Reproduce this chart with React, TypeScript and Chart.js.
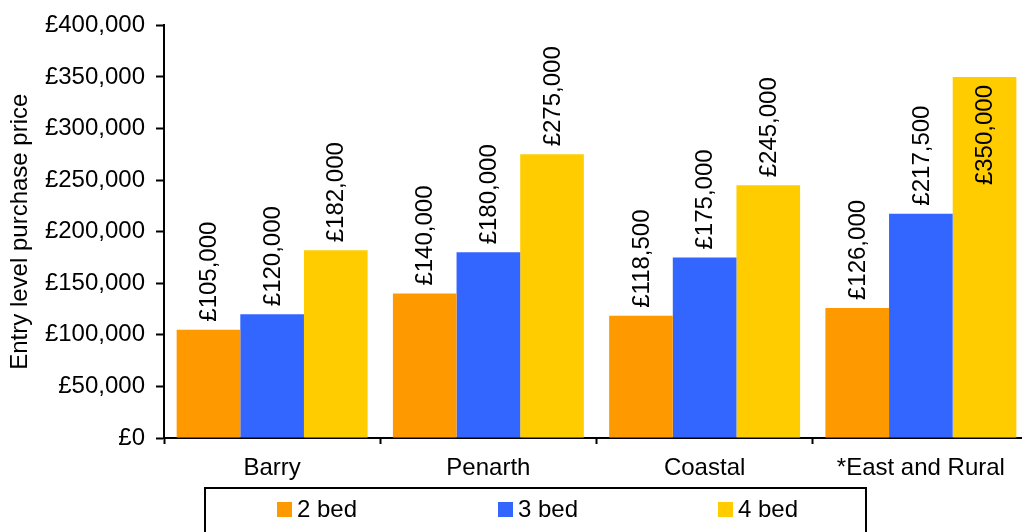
import React, { useEffect, useRef } from "react";
import { Chart, registerables } from "chart.js";

Chart.register(...registerables);

const categories = ["Barry", "Penarth", "Coastal", "*East and Rural"];
const seriesNames = ["2 bed", "3 bed", "4 bed"];
const twoBed = [105000, 140000, 118500, 126000];
const threeBed = [120000, 180000, 175000, 217500];
const fourBed = [182000, 275000, 245000, 350000];
const seriesColors = ["#FF9900", "#3366FF", "#FFCC00"];
const yTicks = [0, 50000, 100000, 150000, 200000, 250000, 300000, 350000, 400000];

const FONT = "'Liberation Sans', Arial, sans-serif";
const FONT_SIZE = 24;

const money = (v: number) => "£" + v.toLocaleString("en-GB");

// Rotated value labels: above the bar, or inside its top when there is no room.
const valueLabels = {
  id: "valueLabels",
  afterDatasetsDraw(chart: any) {
    const ctx = chart.ctx;
    const gap = 8;
    ctx.save();
    ctx.font = `${FONT_SIZE}px ${FONT}`;
    ctx.fillStyle = "#000";
    ctx.textBaseline = "middle";
    chart.data.datasets.forEach((ds: any, di: number) => {
      const meta = chart.getDatasetMeta(di);
      meta.data.forEach((bar: any, i: number) => {
        const text = money(ds.data[i]);
        const w = ctx.measureText(text).width;
        ctx.save();
        ctx.translate(bar.x, bar.y);
        ctx.rotate(-Math.PI / 2);
        if (bar.y - gap - w < chart.chartArea.top) {
          ctx.textAlign = "right";
          ctx.fillText(text, -gap, 1);
        } else {
          ctx.textAlign = "left";
          ctx.fillText(text, gap, 1);
        }
        ctx.restore();
      });
    });
    ctx.restore();
  },
};

// Framed legend below the category axis.
const boxedLegend = {
  id: "boxedLegend",
  afterDraw(chart: any) {
    const ctx = chart.ctx;
    const left = 205;
    const top = 488;
    const width = 661;
    ctx.save();
    ctx.strokeStyle = "#000";
    ctx.lineWidth = 2;
    ctx.strokeRect(left, top, width, 80);
    ctx.font = `${FONT_SIZE}px ${FONT}`;
    ctx.textBaseline = "middle";
    ctx.textAlign = "left";
    const starts = [277, 498, 718];
    chart.data.datasets.forEach((ds: any, i: number) => {
      const x = starts[i];
      ctx.fillStyle = ds.backgroundColor;
      ctx.fillRect(x, 502, 15, 15);
      ctx.fillStyle = "#000";
      ctx.fillText(ds.label, x + 20, 510);
    });
    ctx.restore();
  },
};

export default function App() {
  const ref = useRef<HTMLCanvasElement>(null);

  useEffect(() => {
    if (!ref.current) return;
    const values = [twoBed, threeBed, fourBed];
    const chart = new Chart(ref.current, {
      type: "bar",
      data: {
        labels: categories,
        datasets: seriesNames.map((name, i) => ({
          label: name,
          data: values[i],
          backgroundColor: seriesColors[i],
          borderWidth: 0,
          categoryPercentage: 0.883,
          barPercentage: 1,
        })),
      },
      options: {
        responsive: false,
        animation: false,
        layout: { padding: { top: 25, right: 0, bottom: 0, left: 0 } },
        plugins: {
          legend: { display: false },
          tooltip: { enabled: false },
        },
        scales: {
          x: {
            offset: true,
            grid: {
              offset: true,
              drawOnChartArea: false,
              drawTicks: true,
              tickLength: 6,
              tickColor: "#000",
              tickWidth: 2,
            },
            border: { color: "#000", width: 2 },
            ticks: {
              color: "#000",
              font: { family: FONT, size: FONT_SIZE },
              padding: 10,
              maxRotation: 0,
              autoSkip: false,
            },
            afterFit(scale: any) {
              scale.height = 94;
            },
          },
          y: {
            min: 0,
            max: 400000,
            afterBuildTicks(scale: any) {
              scale.ticks = yTicks.map((v) => ({ value: v }));
            },
            grid: {
              drawOnChartArea: false,
              drawTicks: true,
              tickLength: 8,
              tickColor: "#000",
              tickWidth: 2,
            },
            border: { color: "#000", width: 2 },
            ticks: {
              color: "#000",
              font: { family: FONT, size: FONT_SIZE },
              padding: 11,
              callback: (v: any) => money(Number(v)),
            },
            title: {
              display: true,
              text: "Entry level purchase price",
              color: "#000",
              font: { family: FONT, size: 24 },
              padding: { top: 6, bottom: 0 },
            },
            afterFit(scale: any) {
              scale.width = 164;
            },
          },
        },
      },
      plugins: [valueLabels, boxedLegend],
    });
    return () => chart.destroy();
  }, []);

  return (
    <div
      style={{
        position: "fixed",
        left: 0,
        top: 0,
        width: 1022,
        height: 532,
        overflow: "hidden",
        background: "#fff",
      }}
    >
      <canvas ref={ref} width={1029} height={532} style={{ display: "block" }} />
    </div>
  );
}
